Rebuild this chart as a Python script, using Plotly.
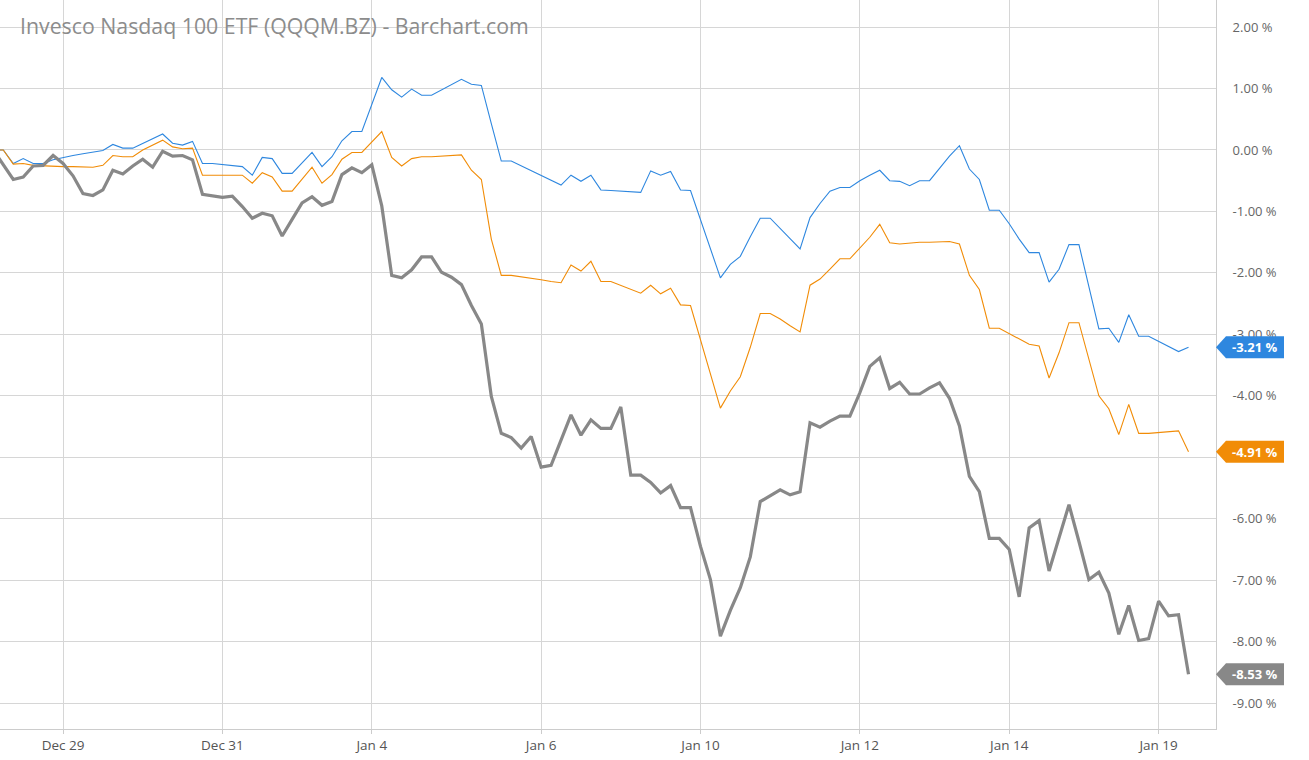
import plotly.graph_objects as go

# Percent change series (one point per bar, evenly spaced in time order)
qqqm_blue = [0.0, 0.0, -0.22, -0.14, -0.22, -0.22, -0.16, -0.12, -0.09, -0.06, -0.03,
             -0.01, 0.09, 0.03, 0.03, 0.11, 0.18, 0.26, 0.11, 0.08, 0.14,
             -0.22, -0.22, -0.24, -0.25, -0.27, -0.41, -0.12, -0.14, -0.38, -0.38,
             -0.21, -0.04, -0.27, -0.11, 0.15, 0.30, 0.30, 0.74, 1.18, 0.98,
             0.86, 0.99, 0.89, 0.89, 0.98, 1.06, 1.15, 1.07, 1.05, 0.43,
             -0.18, -0.18, -0.26, -0.34, -0.41, -0.49, -0.57, -0.41, -0.51, -0.41,
             -0.65, -0.66, -0.67, -0.68, -0.69, -0.34, -0.41, -0.35, -0.65, -0.66,
             -1.14, -1.61, -2.08, -1.86, -1.73, -1.41, -1.11, -1.11, -1.28, -1.45,
             -1.61, -1.10, -0.87, -0.67, -0.61, -0.61, -0.50, -0.41, -0.33, -0.50,
             -0.51, -0.58, -0.50, -0.50, -0.30, -0.10, 0.07, -0.31, -0.48, -0.98,
             -0.98, -1.20, -1.45, -1.67, -1.67, -2.15, -1.94, -1.54, -1.54, -2.23,
             -2.91, -2.90, -3.13, -2.68, -3.03, -3.03, -3.11, -3.20, -3.28, -3.21]

qqqm_orange = [0.0, 0.0, -0.23, -0.22, -0.25, -0.26, -0.26, -0.27, -0.27, -0.28, -0.28,
               -0.25, -0.09, -0.11, -0.11, 0.00, 0.08, 0.16, 0.05, 0.02, 0.03,
               -0.41, -0.41, -0.41, -0.41, -0.41, -0.54, -0.37, -0.44, -0.67, -0.67,
               -0.48, -0.28, -0.54, -0.40, -0.15, -0.04, -0.04, 0.13, 0.30, -0.12,
               -0.26, -0.14, -0.11, -0.11, -0.10, -0.09, -0.08, -0.33, -0.48, -1.45,
               -2.04, -2.04, -2.06, -2.09, -2.11, -2.14, -2.16, -1.87, -1.97, -1.81,
               -2.14, -2.14, -2.20, -2.27, -2.33, -2.20, -2.34, -2.25, -2.52, -2.53,
               -3.10, -3.65, -4.20, -3.92, -3.69, -3.21, -2.66, -2.66, -2.75, -2.86,
               -2.96, -2.20, -2.10, -1.94, -1.77, -1.77, -1.60, -1.42, -1.21, -1.51,
               -1.53, -1.51, -1.50, -1.50, -1.49, -1.49, -1.53, -2.04, -2.27, -2.90,
               -2.90, -2.99, -3.08, -3.16, -3.19, -3.71, -3.30, -2.81, -2.81, -3.41,
               -4.00, -4.21, -4.63, -4.14, -4.61, -4.61, -4.60, -4.58, -4.57, -4.91]

qqqm_gray = [0.0, -0.24, -0.48, -0.44, -0.26, -0.25, -0.09, -0.22, -0.42, -0.71, -0.74,
             -0.65, -0.33, -0.39, -0.26, -0.15, -0.28, -0.02, -0.10, -0.09, -0.16,
             -0.72, -0.75, -0.77, -0.75, -0.92, -1.11, -1.03, -1.07, -1.40, -1.13,
             -0.86, -0.76, -0.90, -0.84, -0.40, -0.29, -0.37, -0.24, -0.91, -2.04,
             -2.08, -1.95, -1.74, -1.74, -1.99, -2.07, -2.19, -2.53, -2.83, -4.01,
             -4.61, -4.68, -4.85, -4.66, -5.16, -5.13, -4.72, -4.31, -4.64, -4.39,
             -4.53, -4.53, -4.18, -5.29, -5.29, -5.41, -5.58, -5.46, -5.82, -5.82,
             -6.45, -6.99, -7.91, -7.49, -7.12, -6.62, -5.72, -5.62, -5.53, -5.61,
             -5.56, -4.44, -4.51, -4.41, -4.33, -4.33, -3.95, -3.52, -3.38, -3.88,
             -3.78, -3.97, -3.97, -3.87, -3.79, -4.04, -4.49, -5.31, -5.56, -6.32,
             -6.32, -6.50, -7.27, -6.15, -6.03, -6.85, -6.31, -5.77, -6.37, -6.99,
             -6.87, -7.21, -7.88, -7.41, -7.98, -7.95, -7.34, -7.58, -7.56, -8.53]

x_tick_index = [7, 23, 38, 55, 71, 87, 102, 117]
x_tick_labels = ["Dec 29", "Dec 31", "Jan 4", "Jan 6", "Jan 10", "Jan 12", "Jan 14", "Jan 19"]
y_tick_values = [2, 1, 0, -1, -2, -3, -4, -5, -6, -7, -8, -9]

title_text = "Invesco Nasdaq 100 ETF (QQQM.BZ) - Barchart.com"

BLUE = "#2e87df"
ORANGE = "#f18c07"
GRAY = "#888888"
FONT = "Open Sans"

idx = list(range(len(qqqm_gray)))

fig = go.Figure()
fig.add_trace(go.Scatter(x=idx, y=qqqm_blue, mode="lines",
                         line=dict(color=BLUE, width=1.1), hoverinfo="skip"))
fig.add_trace(go.Scatter(x=idx, y=qqqm_orange, mode="lines",
                         line=dict(color=ORANGE, width=1.1), hoverinfo="skip"))
fig.add_trace(go.Scatter(x=idx, y=qqqm_gray, mode="lines",
                         line=dict(color=GRAY, width=3.2), hoverinfo="skip"))

Y_MIN, Y_MAX = -9.42, 2.44
PLOT_W = 1216.0
PX_PER_UNIT = 729.0 / (Y_MAX - Y_MIN)

# last-value badges on the right axis
shapes = []
annotations = []
for series, col in [(qqqm_blue, BLUE), (qqqm_orange, ORANGE), (qqqm_gray, GRAY)]:
    last = series[-1]
    h = 11.0 / PX_PER_UNIT
    tip = 1.0
    body = 1.0 + 10.0 / PLOT_W
    right = 1.0 + 68.0 / PLOT_W
    path = (f"M {tip} {last} L {body} {last + h} L {right} {last + h} "
            f"L {right} {last - h} L {body} {last - h} Z")
    shapes.append(dict(type="path", xref="paper", yref="y", path=path,
                       fillcolor=col, line=dict(width=0), layer="above"))
    annotations.append(dict(xref="paper", yref="y", x=(body + right) / 2, y=last,
                            text=f"<b>{last:.2f} %</b>", showarrow=False,
                            xanchor="center", yanchor="middle",
                            font=dict(family=FONT, size=13, color="white")))

annotations.append(dict(xref="paper", yref="paper", x=18.0 / PLOT_W, y=1 - 26.0 / 729.0,
                        text=title_text, showarrow=False, xanchor="left", yanchor="middle",
                        font=dict(family=FONT, size=21.3, color="#8c8c8c")))

fig.update_layout(
    width=1309, height=760,
    margin=dict(l=0, r=93, t=0, b=31),
    paper_bgcolor="white", plot_bgcolor="white",
    showlegend=False,
    shapes=shapes,
    annotations=annotations,
    xaxis=dict(
        range=[0.67, 122.76],
        tickmode="array", tickvals=x_tick_index, ticktext=x_tick_labels,
        showgrid=True, gridcolor="#d6d6d6", gridwidth=1,
        showline=True, linecolor="#cccccc", linewidth=1,
        ticks="outside", ticklen=4, tickcolor="#cccccc",
        tickfont=dict(family=FONT, size=13.5, color="#555555"),
        zeroline=False, fixedrange=True,
    ),
    yaxis=dict(
        range=[Y_MIN, Y_MAX], side="right",
        tickmode="array", tickvals=y_tick_values,
        ticktext=[f"{v:.2f} %" for v in y_tick_values],
        showgrid=True, gridcolor="#d6d6d6", gridwidth=1,
        showline=True, linecolor="#cccccc", linewidth=1,
        ticks="", ticklabelstandoff=13,
        tickfont=dict(family=FONT, size=13, color="#666666"),
        zeroline=False, fixedrange=True,
    ),
)

fig.write_html("out.html")
